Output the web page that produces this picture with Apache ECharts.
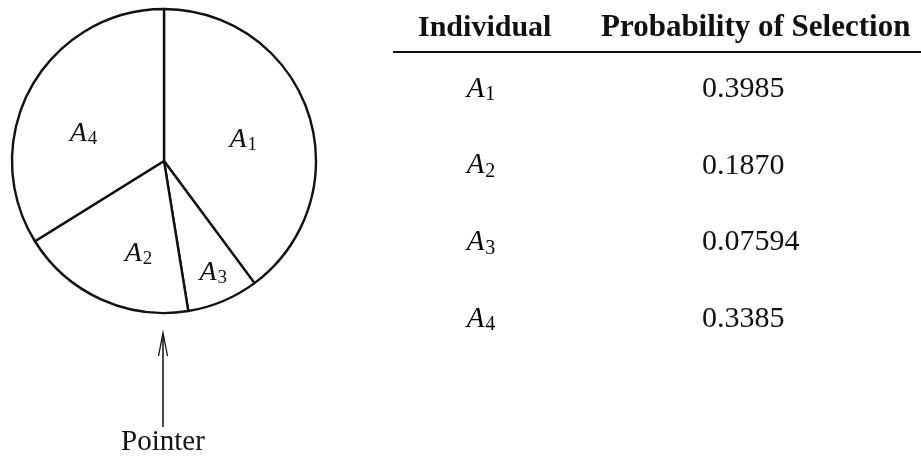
<!DOCTYPE html>
<html>
<head>
<meta charset="utf-8">
<script src="https://cdn.jsdelivr.net/npm/echarts@6/dist/echarts.min.js"></script>
<style>
  html, body { margin: 0; padding: 0; background: #fff; }
  #main { width: 921px; height: 462px; }
</style>
</head>
<body>
<div id="main"></div>
<script>
// table data
var individuals = ['A1', 'A2', 'A3', 'A4'];
var probText = ['0.3985', '0.1870', '0.07594', '0.3385'];
var probValues = probText.map(Number);
// order of the slices going clockwise from the top of the wheel
var wheelOrder = ['A1', 'A3', 'A2', 'A4'];

var headers = ['Individual', 'Probability of Selection'];

var serif = '"Liberation Serif", "DejaVu Serif", serif';
var cx = 164, cy = 161, R = 152;
// where each slice label sits: [fraction of radius, angle shift in degrees]
var labelPlace = [[0.54, 3], [0.80, -1], [0.63, -9], [0.56, -10]];

var mathRich = function (size) {
  return {
    a: { fontFamily: serif, fontStyle: 'italic', fontSize: size, color: '#111', lineHeight: size + 6 },
    s: { fontFamily: serif, fontSize: Math.round(size * 0.68), color: '#111', lineHeight: size + 6, padding: [Math.round(size * 0.42), 0, 0, 1] }
  };
};
var mathText = function (name) {
  return '{a|A}{s|' + name.slice(1) + '}';
};

var pieData = wheelOrder.map(function (n) {
  return { name: n, value: probValues[individuals.indexOf(n)] };
});

var chart = echarts.init(document.getElementById('main'));

var graphics = [];
// header row
graphics.push({
  type: 'text', x: 418, y: 28,
  style: { text: headers[0], font: 'bold 30px ' + serif, fill: '#111', align: 'left', verticalAlign: 'middle' }
});
graphics.push({
  type: 'text', x: 601, y: 28,
  style: { text: headers[1], font: 'bold 31px ' + serif, fill: '#111', align: 'left', verticalAlign: 'middle' }
});
graphics.push({
  type: 'line', shape: { x1: 393, y1: 52, x2: 921, y2: 52 },
  style: { stroke: '#111', lineWidth: 2 }
});
// body rows
individuals.forEach(function (n, i) {
  var y = 89 + i * 76.7;
  graphics.push({
    type: 'text', x: 481, y: y,
    style: { text: mathText(n), rich: mathRich(29), align: 'center', verticalAlign: 'middle' }
  });
  graphics.push({
    type: 'text', x: 702, y: y,
    style: { text: probText[i], font: '30px ' + serif, fill: '#111', align: 'left', verticalAlign: 'middle' }
  });
});
// pointer arrow
graphics.push({
  type: 'line', shape: { x1: 163, y1: 335, x2: 163, y2: 427 },
  style: { stroke: '#111', lineWidth: 1.5 }
});
graphics.push({
  type: 'polyline', shape: { points: [[158.5, 356], [163, 333], [167.5, 356]] },
  style: { stroke: '#111', lineWidth: 1.3, fill: null }
});
graphics.push({
  type: 'text', x: 163, y: 442,
  style: { text: 'Pointer', font: '29px ' + serif, fill: '#111', align: 'center', verticalAlign: 'middle' }
});

chart.setOption({
  backgroundColor: '#fff',
  animation: false,
  series: [{
    type: 'pie',
    center: [cx, cy],
    radius: R,
    startAngle: 90,
    clockwise: true,
    silent: true,
    data: pieData,
    itemStyle: { color: '#fff', borderColor: '#111', borderWidth: 2.4 },
    emphasis: { disabled: true },
    labelLine: { show: false },
    label: {
      show: true,
      position: 'inside',
      formatter: function (p) { return mathText(p.name); },
      rich: mathRich(28)
    },
    labelLayout: function (params) {
      var r = params.labelRect;
      var lx = r.x + r.width / 2, ly = r.y + r.height / 2;
      var ang = Math.atan2(ly - cy, lx - cx);
      var place = labelPlace[params.dataIndex];
      var a2 = ang + place[1] * Math.PI / 180;
      var tx = cx + Math.cos(a2) * R * place[0];
      var ty = cy + Math.sin(a2) * R * place[0];
      return { dx: tx - lx, dy: ty - ly };
    }
  }],
  graphic: graphics
});
</script>
</body>
</html>
